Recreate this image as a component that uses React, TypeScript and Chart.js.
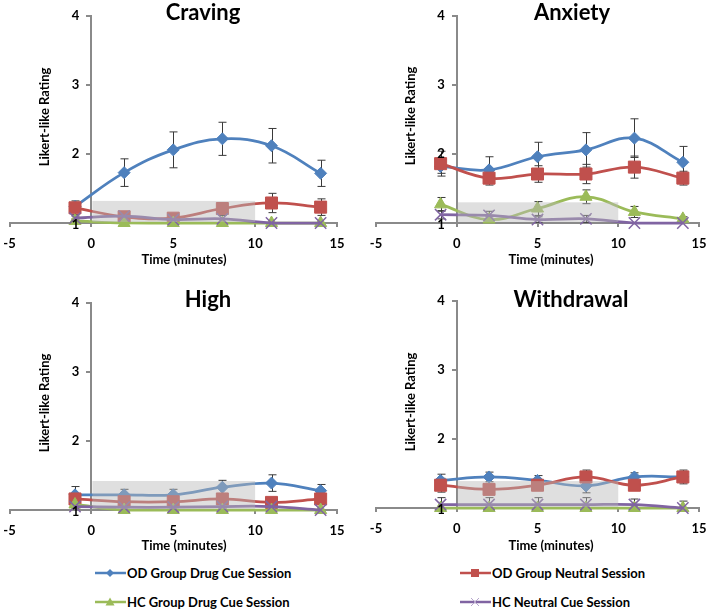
import React, { useEffect, useRef } from 'react';
import { Chart, registerables } from 'chart.js';

Chart.register(...registerables);

// ---------- data ----------
const TIMES = [-1, 2, 5, 8, 11, 14];
const SERIES_NAMES = [
  'OD Group Drug Cue Session',
  'OD Group Neutral Session',
  'HC Group Drug Cue Session',
  'HC Neutral Cue Session',
];
const X_MIN = -5;
const X_MAX = 15;
const X_STEP = 5;
const Y_MIN = 1;
const Y_MAX = 4;
const Y_STEP = 1;
const CUE_START = 0;
const CUE_END = 10;

// Craving
const cravingOdDrug = [1.24, 1.73, 2.06, 2.22, 2.12, 1.72];
const cravingOdDrugErr = [0.05, 0.2, 0.26, 0.24, 0.25, 0.19];
const cravingOdNeutral = [1.22, 1.09, 1.07, 1.21, 1.29, 1.23];
const cravingOdNeutralErr = [0.1, 0.05, 0.04, 0.05, 0.14, 0.12];
const cravingHcDrug = [1.03, 1.0, 1.0, 1.0, 1.0, 1.0];
const cravingHcDrugErr = [0.03, 0, 0, 0, 0, 0];
const cravingHcNeutral = [1.07, 1.1, 1.05, 1.06, 1.0, 1.0];
const cravingHcNeutralErr = [0.03, 0.05, 0.03, 0.05, 0, 0];
const cravingCueTop = 1.32;

// Anxiety
const anxietyOdDrug = [1.82, 1.77, 1.96, 2.06, 2.23, 1.88];
const anxietyOdDrugErr = [0.1, 0.19, 0.21, 0.25, 0.28, 0.23];
const anxietyOdNeutral = [1.86, 1.65, 1.71, 1.71, 1.81, 1.65];
const anxietyOdNeutralErr = [0.18, 0.1, 0.12, 0.14, 0.16, 0.1];
const anxietyHcDrug = [1.27, 1.05, 1.21, 1.38, 1.16, 1.06];
const anxietyHcDrugErr = [0.1, 0.04, 0.1, 0.1, 0.08, 0.03];
const anxietyHcNeutral = [1.12, 1.11, 1.05, 1.06, 1.0, 1.0];
const anxietyHcNeutralErr = [0.06, 0.06, 0.04, 0.05, 0, 0];
const anxietyCueTop = 1.3;

// High
const highOdDrug = [1.22, 1.22, 1.22, 1.33, 1.39, 1.28];
const highOdDrugErr = [0.12, 0.08, 0.08, 0.1, 0.12, 0.09];
const highOdNeutral = [1.16, 1.12, 1.12, 1.16, 1.11, 1.16];
const highOdNeutralErr = [0.04, 0.03, 0.03, 0.05, 0.03, 0.04];
const highHcDrug = [1.08, 1.0, 1.0, 1.0, 1.0, 1.0];
const highHcDrugErr = [0.03, 0, 0, 0, 0, 0];
const highHcNeutral = [1.05, 1.04, 1.04, 1.05, 1.05, 1.0];
const highHcNeutralErr = [0.03, 0.03, 0.03, 0.03, 0.03, 0];
const highCueTop = 1.42;

// Withdrawal
const withdrawalOdDrug = [1.4, 1.45, 1.4, 1.32, 1.45, 1.45];
const withdrawalOdDrugErr = [0.09, 0.07, 0.07, 0.1, 0.06, 0.06];
const withdrawalOdNeutral = [1.33, 1.27, 1.33, 1.45, 1.33, 1.45];
const withdrawalOdNeutralErr = [0.1, 0.06, 0.06, 0.1, 0.06, 0.1];
const withdrawalHcDrug = [1.0, 1.0, 1.0, 1.0, 1.0, 1.0];
const withdrawalHcDrugErr = [0, 0, 0, 0, 0, 0];
const withdrawalHcNeutral = [1.05, 1.05, 1.05, 1.05, 1.05, 1.0];
const withdrawalHcNeutralErr = [0.1, 0.1, 0.1, 0.1, 0.08, 0.1];
const withdrawalCueTop = 1.39;

// ---------- styles ----------
const COLORS = ['#4F81BD', '#C0504D', '#9BBB59', '#8064A2'];
const POINT_STYLES = ['rectRot', 'rect', 'triangle', 'crossRot'];
const POINT_RADII = [6, 8.5, 7, 8];
const FONT = 'Lato, "Open Sans", sans-serif';
const AXIS_COLOR = '#8a8a8a';

type PanelDef = {
  title: string;
  series: number[][];
  errors: number[][];
  cueTop: number;
  left: number; top: number; width: number; height: number;
  area: { l: number; r: number; t: number; b: number };
  titlePos: [number, number];
  xTitlePos: [number, number];
  yTitlePos: [number, number];
};

const PANELS: PanelDef[] = [
  {
    title: 'Craving',
    series: [cravingOdDrug, cravingOdNeutral, cravingHcDrug, cravingHcNeutral],
    errors: [cravingOdDrugErr, cravingOdNeutralErr, cravingHcDrugErr, cravingHcNeutralErr],
    cueTop: cravingCueTop,
    left: 0, top: 0, width: 354, height: 275,
    area: { l: 8, r: 337, t: 16, b: 223 },
    titlePos: [203, 13], xTitlePos: [184, 260], yTitlePos: [45, 117],
  },
  {
    title: 'Anxiety',
    series: [anxietyOdDrug, anxietyOdNeutral, anxietyHcDrug, anxietyHcNeutral],
    errors: [anxietyOdDrugErr, anxietyOdNeutralErr, anxietyHcDrugErr, anxietyHcNeutralErr],
    cueTop: anxietyCueTop,
    left: 354, top: 0, width: 355, height: 275,
    area: { l: 22, r: 345, t: 16, b: 223 },
    titlePos: [218, 13], xTitlePos: [197, 260], yTitlePos: [57, 116],
  },
  {
    title: 'High',
    series: [highOdDrug, highOdNeutral, highHcDrug, highHcNeutral],
    errors: [highOdDrugErr, highOdNeutralErr, highHcDrugErr, highHcNeutralErr],
    cueTop: highCueTop,
    left: 0, top: 280, width: 354, height: 275,
    area: { l: 8, r: 337, t: 23, b: 230 },
    titlePos: [208, 20], xTitlePos: [184, 266], yTitlePos: [45, 123],
  },
  {
    title: 'Withdrawal',
    series: [withdrawalOdDrug, withdrawalOdNeutral, withdrawalHcDrug, withdrawalHcNeutral],
    errors: [withdrawalOdDrugErr, withdrawalOdNeutralErr, withdrawalHcDrugErr, withdrawalHcNeutralErr],
    cueTop: withdrawalCueTop,
    left: 354, top: 280, width: 355, height: 275,
    area: { l: 22, r: 345, t: 21, b: 228 },
    titlePos: [217, 20], xTitlePos: [197, 266], yTitlePos: [57, 122],
  },
];

const decorPlugin = {
  id: 'panelDecor',
  beforeDatasetsDraw(chart: any) {
    const { ctx, chartArea } = chart;
    const xs = chart.scales.x;
    const ys = chart.scales.y;
    ctx.save();
    ctx.beginPath();
    ctx.rect(chartArea.left, chartArea.top - 2, chartArea.right - chartArea.left, chartArea.bottom - chartArea.top + 2);
    ctx.clip();
    ctx.strokeStyle = '#3a3a3a';
    ctx.lineWidth = 1;
    chart.data.datasets.forEach((ds: any) => {
      const errs: number[] = ds.errors;
      if (!errs) return;
      ds.data.forEach((p: any, i: number) => {
        const e = errs[i];
        if (!e) return;
        const px = Math.round(xs.getPixelForValue(p.x)) + 0.5;
        const yTop = ys.getPixelForValue(p.y + e);
        const yBot = ys.getPixelForValue(p.y - e);
        ctx.beginPath();
        ctx.moveTo(px, yTop);
        ctx.lineTo(px, yBot);
        ctx.moveTo(px - 4, yTop);
        ctx.lineTo(px + 4, yTop);
        ctx.moveTo(px - 4, yBot);
        ctx.lineTo(px + 4, yBot);
        ctx.stroke();
      });
    });
    ctx.restore();
  },
  afterDatasetsDraw(chart: any, _args: any, opts: any) {
    const { ctx } = chart;
    const xs = chart.scales.x;
    const ys = chart.scales.y;
    const x0 = xs.getPixelForValue(CUE_START) + 1;
    const x1 = xs.getPixelForValue(CUE_END);
    const yT = ys.getPixelForValue(opts.cueTop);
    const yB = ys.getPixelForValue(Y_MIN) - 1;
    ctx.save();
    ctx.fillStyle = 'rgba(185,185,185,0.45)';
    ctx.fillRect(x0, yT, x1 - x0, yB - yT);
    ctx.restore();
  },
  afterDraw(chart: any, _args: any, opts: any) {
    const { ctx } = chart;
    const xs = chart.scales.x;
    const ys = chart.scales.y;
    ctx.save();
    ctx.fillStyle = '#000';
    // y tick labels, from the library's own tick list
    ctx.font = `bold 13px ${FONT}`;
    ctx.textAlign = 'right';
    ctx.textBaseline = 'middle';
    const axisX = xs.getPixelForValue(0);
    ys.ticks.forEach((t: any) => {
      const py = ys.getPixelForValue(t.value);
      ctx.fillText(String(t.value), axisX - 12, py + (t.value === Y_MIN ? 2 : 0));
    });
    ctx.textAlign = 'center';
    ctx.font = `bold 22px ${FONT}`;
    ctx.fillText(opts.title, opts.titlePos[0], opts.titlePos[1]);
    ctx.font = `bold 13px ${FONT}`;
    ctx.fillText('Time (minutes)', opts.xTitlePos[0], opts.xTitlePos[1]);
    ctx.translate(opts.yTitlePos[0], opts.yTitlePos[1]);
    ctx.rotate(-Math.PI / 2);
    ctx.fillText('Likert-like Rating', 0, 0);
    ctx.restore();
  },
};

function PanelChart({ def }: { def: PanelDef }) {
  const ref = useRef<HTMLCanvasElement | null>(null);
  useEffect(() => {
    if (!ref.current) return;
    const { area, width, height } = def;
    const datasets = def.series.map((vals, si) => ({
      label: SERIES_NAMES[si],
      data: TIMES.map((t, i) => ({ x: t, y: vals[i] })),
      errors: def.errors[si],
      borderColor: COLORS[si],
      backgroundColor: COLORS[si],
      pointBackgroundColor: COLORS[si],
      pointBorderColor: COLORS[si],
      pointStyle: POINT_STYLES[si],
      pointRadius: POINT_RADII[si],
      pointBorderWidth: si === 3 ? 1.5 : 1,
      borderWidth: 2.75,
      tension: 0.4,
      fill: false,
      clip: 9,
      order: 4 - si,
    }));
    const chart = new Chart(ref.current, {
      type: 'line',
      data: { datasets } as any,
      plugins: [decorPlugin as any],
      options: {
        animation: false,
        responsive: false,
        maintainAspectRatio: false,
        layout: {
          padding: { left: area.l, right: width - area.r, top: area.t, bottom: 0 },
        },
        plugins: {
          legend: { display: false },
          title: { display: false },
          tooltip: { enabled: false },
          panelDecor: {
            title: def.title,
            cueTop: def.cueTop,
            titlePos: def.titlePos,
            xTitlePos: def.xTitlePos,
            yTitlePos: def.yTitlePos,
          },
        } as any,
        scales: {
          x: {
            type: 'linear',
            min: X_MIN,
            max: X_MAX,
            position: 'bottom',
            afterFit: (s: any) => {
              s.height = height - area.b;
              s.paddingLeft = 0;
              s.paddingRight = 0;
            },
            ticks: {
              stepSize: X_STEP,
              color: '#000',
              padding: 9,
              font: { family: FONT, size: 13, weight: 700 },
            },
            grid: { drawOnChartArea: false, drawTicks: true, tickLength: 4, color: AXIS_COLOR, lineWidth: 2 },
            border: { display: true, color: AXIS_COLOR, width: 2 },
          },
          y: {
            type: 'linear',
            min: Y_MIN,
            max: Y_MAX,
            position: { x: 0 } as any,
            afterFit: (s: any) => {
              s.paddingTop = 0;
              s.paddingBottom = 0;
            },
            ticks: {
              stepSize: Y_STEP,
              display: false,
            },
            grid: { drawOnChartArea: false, drawTicks: true, tickLength: 4, color: AXIS_COLOR, lineWidth: 2 },
            border: { display: true, color: AXIS_COLOR, width: 2 },
          },
        } as any,
      },
    } as any);
    return () => chart.destroy();
  }, [def]);
  return (
    <canvas
      ref={ref}
      width={def.width}
      height={def.height}
      style={{ position: 'absolute', left: def.left, top: def.top, width: def.width, height: def.height }}
    />
  );
}

function LegendMark({ index }: { index: number }) {
  const c = COLORS[index];
  let marker: React.ReactNode = null;
  if (index === 0) marker = <polygon points="15,3 19,7 15,11 11,7" fill={c} />;
  if (index === 1) marker = <rect x={11} y={3} width={8} height={8} fill={c} />;
  if (index === 2) marker = <polygon points="15,2.5 19.5,10.5 10.5,10.5" fill={c} />;
  if (index === 3)
    marker = (
      <g stroke="#b6a6cc" strokeWidth={1}>
        <line x1={11} y1={3} x2={19} y2={11} />
        <line x1={19} y1={3} x2={11} y2={11} />
      </g>
    );
  return (
    <svg width={31} height={14} style={{ position: 'absolute', left: 0, top: 0 }}>
      <line x1={0} y1={7} x2={31} y2={7} stroke={c} strokeWidth={2.5} />
      {marker}
    </svg>
  );
}

const LEGEND_POS: [number, number][] = [
  [95, 573],
  [460, 573],
  [95, 602],
  [460, 602],
];

export default function App() {
  return (
    <div style={{ position: 'absolute', left: 0, top: 0, width: 709, height: 611, background: '#fff', overflow: 'hidden' }}>
      {PANELS.map((p) => (
        <PanelChart key={p.title} def={p} />
      ))}
      {SERIES_NAMES.map((name, i) => (
        <div
          key={name}
          style={{
            position: 'absolute',
            left: LEGEND_POS[i][0],
            top: LEGEND_POS[i][1] - 7,
            height: 14,
            paddingLeft: 32,
            fontFamily: FONT,
            fontWeight: 'bold',
            fontSize: 13,
            lineHeight: '14px',
            whiteSpace: 'nowrap',
            color: '#000',
          }}
        >
          <LegendMark index={i} />
          {name}
        </div>
      ))}
    </div>
  );
}
